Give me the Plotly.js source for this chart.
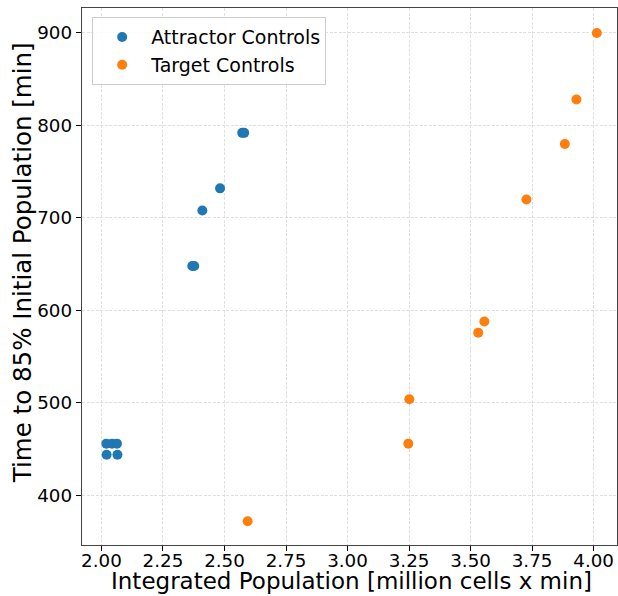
<!DOCTYPE html>
<html>
<head>
<meta charset="utf-8">
<script src="https://cdn.plot.ly/plotly-3.0.1.min.js"></script>
<style>
  html, body { margin: 0; padding: 0; background: #fff; }
  #chart { width: 618px; height: 596px; }
</style>
</head>
<body>
<div id="chart"></div>
<script>
// Integrated population (million cells x min) vs. time to reach 85% of the initial population (min)
const attractorX = [2.020, 2.043, 2.063, 2.021, 2.065, 2.369, 2.377, 2.410, 2.482, 2.572, 2.580];
const attractorY = [456, 456, 456, 444, 444, 648, 648, 708, 732, 792, 792];

const targetX = [2.594, 3.247, 3.251, 3.531, 3.556, 3.727, 3.883, 3.930, 4.013];
const targetY = [372, 456, 504, 576, 588, 720, 780, 828, 900];

const xTicks = [2.00, 2.25, 2.50, 2.75, 3.00, 3.25, 3.50, 3.75, 4.00];
const yTicks = [400, 500, 600, 700, 800, 900];

const xTitle = 'Integrated Population [million cells x min]';
const yTitle = 'Time to 85% Initial Population [min]';

const fontFamily = 'DejaVu Sans, sans-serif';

const traces = [
  {
    x: attractorX, y: attractorY, name: 'Attractor Controls',
    type: 'scatter', mode: 'markers',
    marker: { color: '#1f77b4', size: 10 }
  },
  {
    x: targetX, y: targetY, name: 'Target Controls',
    type: 'scatter', mode: 'markers',
    marker: { color: '#ff7f0e', size: 10 }
  }
];

const axisCommon = {
  showline: true, mirror: true, linecolor: '#444', linewidth: 1.2,
  ticks: 'outside', ticklen: 5, tickwidth: 1, tickcolor: '#000',
  showgrid: true, gridcolor: '#d8d8d8', griddash: '3px,1.5px', gridwidth: 0.8,
  zeroline: false,
  tickfont: { family: fontFamily, size: 18.3, color: '#000' }
};

const layout = {
  width: 618, height: 596,
  margin: { l: 82, r: 1, t: 8, b: 51 },
  paper_bgcolor: '#fff', plot_bgcolor: '#fff',
  showlegend: true,
  xaxis: Object.assign({}, axisCommon, {
    range: [1.921, 4.095],
    tickvals: xTicks,
    ticktext: xTicks.map(v => v.toFixed(2)),
    ticklabelstandoff: -6
  }),
  yaxis: Object.assign({}, axisCommon, {
    range: [346.4, 927],
    tickvals: yTicks,
    ticktext: yTicks.map(String)
  }),
  // axis labels as annotations so their exact placement can be set
  annotations: [
    {
      text: xTitle, showarrow: false,
      xref: 'paper', yref: 'paper', x: 0.504, y: -0.093,
      xanchor: 'center', yanchor: 'bottom', borderpad: 0,
      font: { family: fontFamily, size: 23, color: '#000' }
    },
    {
      text: yTitle, textangle: -90, showarrow: false,
      xref: 'paper', yref: 'paper', x: -0.112, y: 0.525,
      xanchor: 'center', yanchor: 'middle',
      font: { family: fontFamily, size: 24.5, color: '#000' }
    }
  ],
  legend: {
    x: 0.019, y: 0.983, xanchor: 'left', yanchor: 'top',
    bgcolor: 'rgba(255,255,255,0.85)', bordercolor: '#cccccc', borderwidth: 1,
    font: { family: fontFamily, size: 19, color: '#000' },
    itemwidth: 48
  }
};

Plotly.newPlot('chart', traces, layout, { displayModeBar: false, staticPlot: true });
</script>
</body>
</html>
